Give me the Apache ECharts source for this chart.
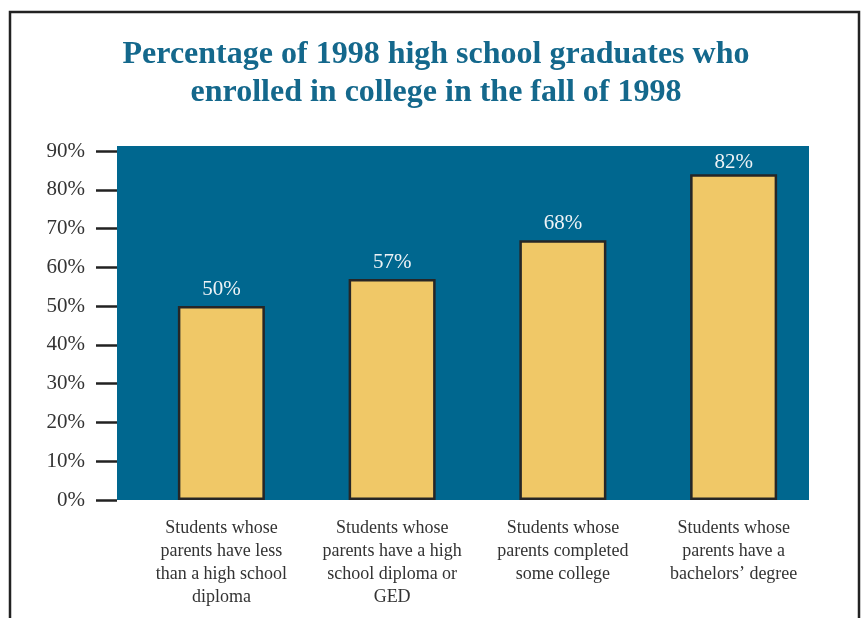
<!DOCTYPE html>
<html>
<head>
<meta charset="utf-8">
<script src="https://cdn.jsdelivr.net/npm/echarts@6/dist/echarts.min.js"></script>
<style>
  html, body { margin: 0; padding: 0; background: #fff; }
  #main { width: 861px; height: 618px; }
</style>
</head>
<body>
<div id="main"></div>
<script>
// categories and values
var categories = [
    'Students whose\nparents have less\nthan a high school\ndiploma',
    'Students whose\nparents have a high\nschool diploma or\nGED',
    'Students whose\nparents completed\nsome college',
    'Students whose\nparents have a\nbachelors\u2019 degree'
];
// bar heights as drawn
var barHeights = [50, 57, 67, 84];
// printed value labels
var valueLabels = ['50%', '57%', '68%', '82%'];
var yTicks = [0, 10, 20, 30, 40, 50, 60, 70, 80, 90];

var serif = '"Liberation Serif", "DejaVu Serif", serif';

var myChart = echarts.init(document.getElementById('main'));

// the last label sits a bit closer to its bar (it is squeezed under the plot top)
var barData = barHeights.map(function (v, i) {
    var item = { value: v };
    if (i === barHeights.length - 1) {
        item.label = { distance: 1 };
    }
    return item;
});

var option = {
    backgroundColor: '#fff',
    animation: false,
    title: {
        text: 'Percentage of 1998 high school graduates who\nenrolled in college in the fall of 1998',
        left: 431,
        top: 31,
        textAlign: 'center',
        textStyle: {
            fontFamily: serif,
            fontWeight: 'bold',
            fontSize: 32,
            lineHeight: 38,
            color: '#14688c'
        }
    },
    graphic: [
        {
            type: 'rect',
            shape: { x: 10, y: 12, width: 849, height: 620 },
            style: { fill: 'none', stroke: '#222', lineWidth: 2.5 },
            z: 0
        },
        {
            type: 'rect',
            shape: { x: 117, y: 146, width: 692, height: 354 },
            style: { fill: '#00678f' },
            z: 0
        }
    ],
    grid: {
        left: 136,
        right: 42,
        top: 151,
        bottom: 118
    },
    xAxis: {
        type: 'category',
        data: categories,
        axisLine: { show: false },
        axisTick: { show: false },
        axisLabel: {
            interval: 0,
            margin: 17,
            fontFamily: serif,
            fontSize: 18,
            lineHeight: 23,
            color: '#333'
        }
    },
    yAxis: {
        type: 'value',
        min: yTicks[0],
        max: yTicks[yTicks.length - 1],
        interval: 10,
        offset: 19,
        splitLine: { show: false },
        axisLine: { show: false },
        axisTick: {
            show: true,
            length: 21,
            lineStyle: { color: '#222', width: 2.5 }
        },
        axisLabel: {
            margin: 32,
            fontFamily: serif,
            fontSize: 21,
            color: '#333',
            formatter: '{value}%'
        }
    },
    series: [{
        type: 'bar',
        data: barData,
        barWidth: 87,
        z: 3,
        itemStyle: {
            color: '#f0c867',
            borderColor: '#262626',
            borderWidth: 2.5
        },
        label: {
            show: true,
            position: 'top',
            distance: 6,
            fontFamily: serif,
            fontSize: 21,
            color: '#eef3f6',
            formatter: function (p) { return valueLabels[p.dataIndex]; }
        }
    }]
};

myChart.setOption(option, true);
</script>
</body>
</html>
